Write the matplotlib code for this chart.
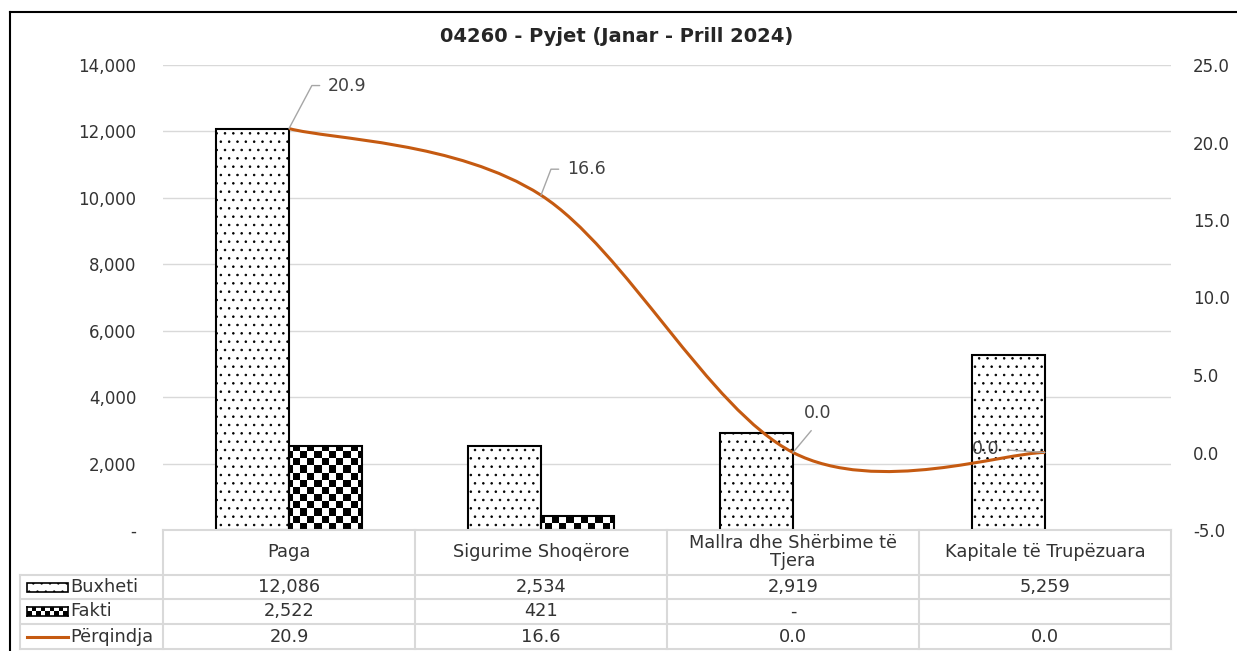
import numpy as np
import matplotlib.pyplot as plt
from matplotlib.path import Path
from matplotlib.patches import PathPatch, Rectangle
from matplotlib.lines import Line2D
from matplotlib.ticker import FuncFormatter

plt.rcParams['font.family'] = ['DejaVu Sans']
plt.rcParams['hatch.linewidth'] = 0.6

# Te dhenat
titulli = "04260 - Pyjet (Janar - Prill 2024)"
kategorite = ["Paga", "Sigurime Shoqërore", "Mallra dhe Shërbime të\nTjera", "Kapitale të Trupëzuara"]
buxheti = np.array([12086, 2534, 2919, 5259])
fakti = np.array([2522, 421, 0, np.nan])
perqindja = np.array([20.9, 16.6, 0.0, 0.0])
seritë = ["Buxheti", "Fakti", "Përqindja"]

portokalli = '#C55A11'
teksti = '#333333'
gri = '#d9d9d9'

W, H = 1237, 651
fig = plt.figure(figsize=(W / 100, H / 100), dpi=100)


def fx(x):
    return x / W


def fy(y):
    return 1 - y / H


# zona e grafikut
L, R, T, B = 163, 1171, 65, 530
ax = fig.add_axes([fx(L), fy(B), (R - L) / W, (B - T) / H])

x = np.arange(len(kategorite))
w = 0.288
ax.bar(x - w / 2, buxheti, w, color='white', edgecolor='black', hatch='..', linewidth=1.5, zorder=2)
ka = ~np.isnan(fakti) & (np.nan_to_num(fakti) > 0)
bars_f = ax.bar(x[ka] + w / 2, fakti[ka], w, facecolor='none', edgecolor='black', linewidth=1.5, zorder=2)

# modeli shah per Fakti
shah = np.indices((65, 140)).sum(axis=0) % 2
for b in bars_f:
    im = ax.imshow(shah, cmap='gray_r', extent=(-0.5, 3.5, 0, 14000), aspect='auto',
                   interpolation='nearest', zorder=1.5)
    im.set_clip_path(b)

ax.set_xlim(-0.5, 3.5)
ax.set_ylim(0, 14000)
ax.set_yticks(range(0, 14001, 2000))
ax.yaxis.set_major_formatter(FuncFormatter(lambda v, _: '-' if v == 0 else f'{v:,.0f}'))
ax.grid(axis='y', color=gri, linewidth=1)
ax.set_axisbelow(True)
ax.set_xticks([])
ax.tick_params(axis='y', length=0, pad=19, labelsize=12, labelcolor=teksti)
for s in ax.spines.values():
    s.set_visible(False)

ax2 = ax.twinx()
ax2.set_ylim(-5, 25)
ax2.set_yticks(range(-5, 26, 5))
ax2.yaxis.set_major_formatter(FuncFormatter(lambda v, _: f'{v:.1f}'))
ax2.tick_params(axis='y', length=0, pad=16, labelsize=12, labelcolor=teksti)
for s in ax2.spines.values():
    s.set_visible(False)

# vija e lemuar (si ne Excel)
pts = np.column_stack([x, perqindja])
n = len(pts)
verts = [pts[0]]
codes = [Path.MOVETO]
for i in range(n - 1):
    p0 = pts[max(i - 1, 0)]
    p1 = pts[i]
    p2 = pts[i + 1]
    p3 = pts[min(i + 2, n - 1)]
    verts += [p1 + (p2 - p0) / 6, p2 - (p3 - p1) / 6, p2]
    codes += [Path.CURVE4] * 3
ax2.add_patch(PathPatch(Path(verts, codes), facecolor='none', edgecolor=portokalli, lw=2.2, zorder=3))

# etiketat
lbl = dict(fontsize=12.5, color='#404040', textcoords='offset pixels', zorder=4)
ax2.annotate(f'{perqindja[0]:.1f}', xy=(x[0], perqindja[0]), xytext=(39, 43), ha='left', va='center',
             arrowprops=dict(arrowstyle='-', color='#a6a6a6', lw=1, relpos=(0, 0.5), shrinkA=4, shrinkB=0,
                             connectionstyle='angle,angleA=0,angleB=62,rad=0'), **lbl)
ax2.annotate(f'{perqindja[1]:.1f}', xy=(x[1], perqindja[1]), xytext=(26, 26), ha='left', va='center',
             arrowprops=dict(arrowstyle='-', color='#a6a6a6', lw=1, relpos=(0, 0.5), shrinkA=4, shrinkB=0,
                             connectionstyle='angle,angleA=0,angleB=69,rad=0'), **lbl)
ax2.annotate(f'{perqindja[2]:.1f}', xy=(x[2], perqindja[2]), xytext=(25, 39), ha='center', va='center',
             arrowprops=dict(arrowstyle='-', color='#a6a6a6', lw=1, relpos=(0.5, 0), shrinkA=5, shrinkB=0), **lbl)
ax2.annotate(f'{perqindja[3]:.1f}', xy=(x[3], perqindja[3]), xytext=(-46, 3), ha='right', va='center',
             arrowprops=dict(arrowstyle='-', color='#a6a6a6', lw=1, relpos=(1, 0.5), shrinkA=4, shrinkB=0), **lbl)

# tabela e te dhenave
kol_w = (R - L) / len(kategorite)
kufijte = [L + i * kol_w for i in range(len(kategorite) + 1)]
rreshtat = [575, 599, 624, 649]
LK = 20
ft = 12.8


def vije(x0, y0, x1, y1, **kw):
    fig.add_artist(Line2D([fx(x0), fx(x1)], [fy(y0), fy(y1)], **kw))


vije(L, B, R, B, color=gri, lw=1.5)
for yy in rreshtat:
    vije(LK, yy, R, yy, color=gri, lw=1.5)
vije(LK, rreshtat[0], LK, rreshtat[-1], color=gri, lw=1.5)
for xx in kufijte:
    vije(xx, B, xx, rreshtat[-1], color=gri, lw=1.5)

for i, k in enumerate(kategorite):
    cx = (kufijte[i] + kufijte[i + 1]) / 2
    fig.text(fx(cx), fy(552), k, ha='center', va='center', fontsize=ft, color=teksti, linespacing=1.0)
    vlerat = [
        f'{buxheti[i]:,.0f}',
        '' if np.isnan(fakti[i]) else ('-' if fakti[i] == 0 else f'{fakti[i]:,.0f}'),
        f'{perqindja[i]:.1f}',
    ]
    for j, v in enumerate(vlerat):
        cy = (rreshtat[j] + rreshtat[j + 1]) / 2
        fig.text(fx(cx), fy(cy), v, ha='center', va='center', fontsize=ft, color=teksti)

# celesat e legjendes
for j, s in enumerate(seritë):
    cy = (rreshtat[j] + rreshtat[j + 1]) / 2
    fig.text(fx(70), fy(cy), s, ha='left', va='center', fontsize=ft, color=teksti)

fig.add_artist(Rectangle((fx(27), fy(592)), fx(68) - fx(27), fy(583) - fy(592), facecolor='white',
                         edgecolor='black', hatch='..', lw=1.2, transform=fig.transFigure))
kax = fig.add_axes([fx(27), fy(616), fx(68) - fx(27), fy(607) - fy(616)])
kax.imshow(shah[:2, :9], cmap='gray_r', aspect='auto', interpolation='nearest')
kax.set_xticks([])
kax.set_yticks([])
for s in kax.spines.values():
    s.set_linewidth(1.2)
vije(27, 637, 68, 637, color=portokalli, lw=2.2)

# titulli dhe korniza
fig.text(fx(617), fy(37), titulli, ha='center', va='center', fontsize=14, fontweight='bold', color='#262626')
vije(10, 12, W, 12, color='black', lw=1.5)
vije(10, 12, 10, H, color='black', lw=1.5)

fig.savefig('out.png', dpi=100)
